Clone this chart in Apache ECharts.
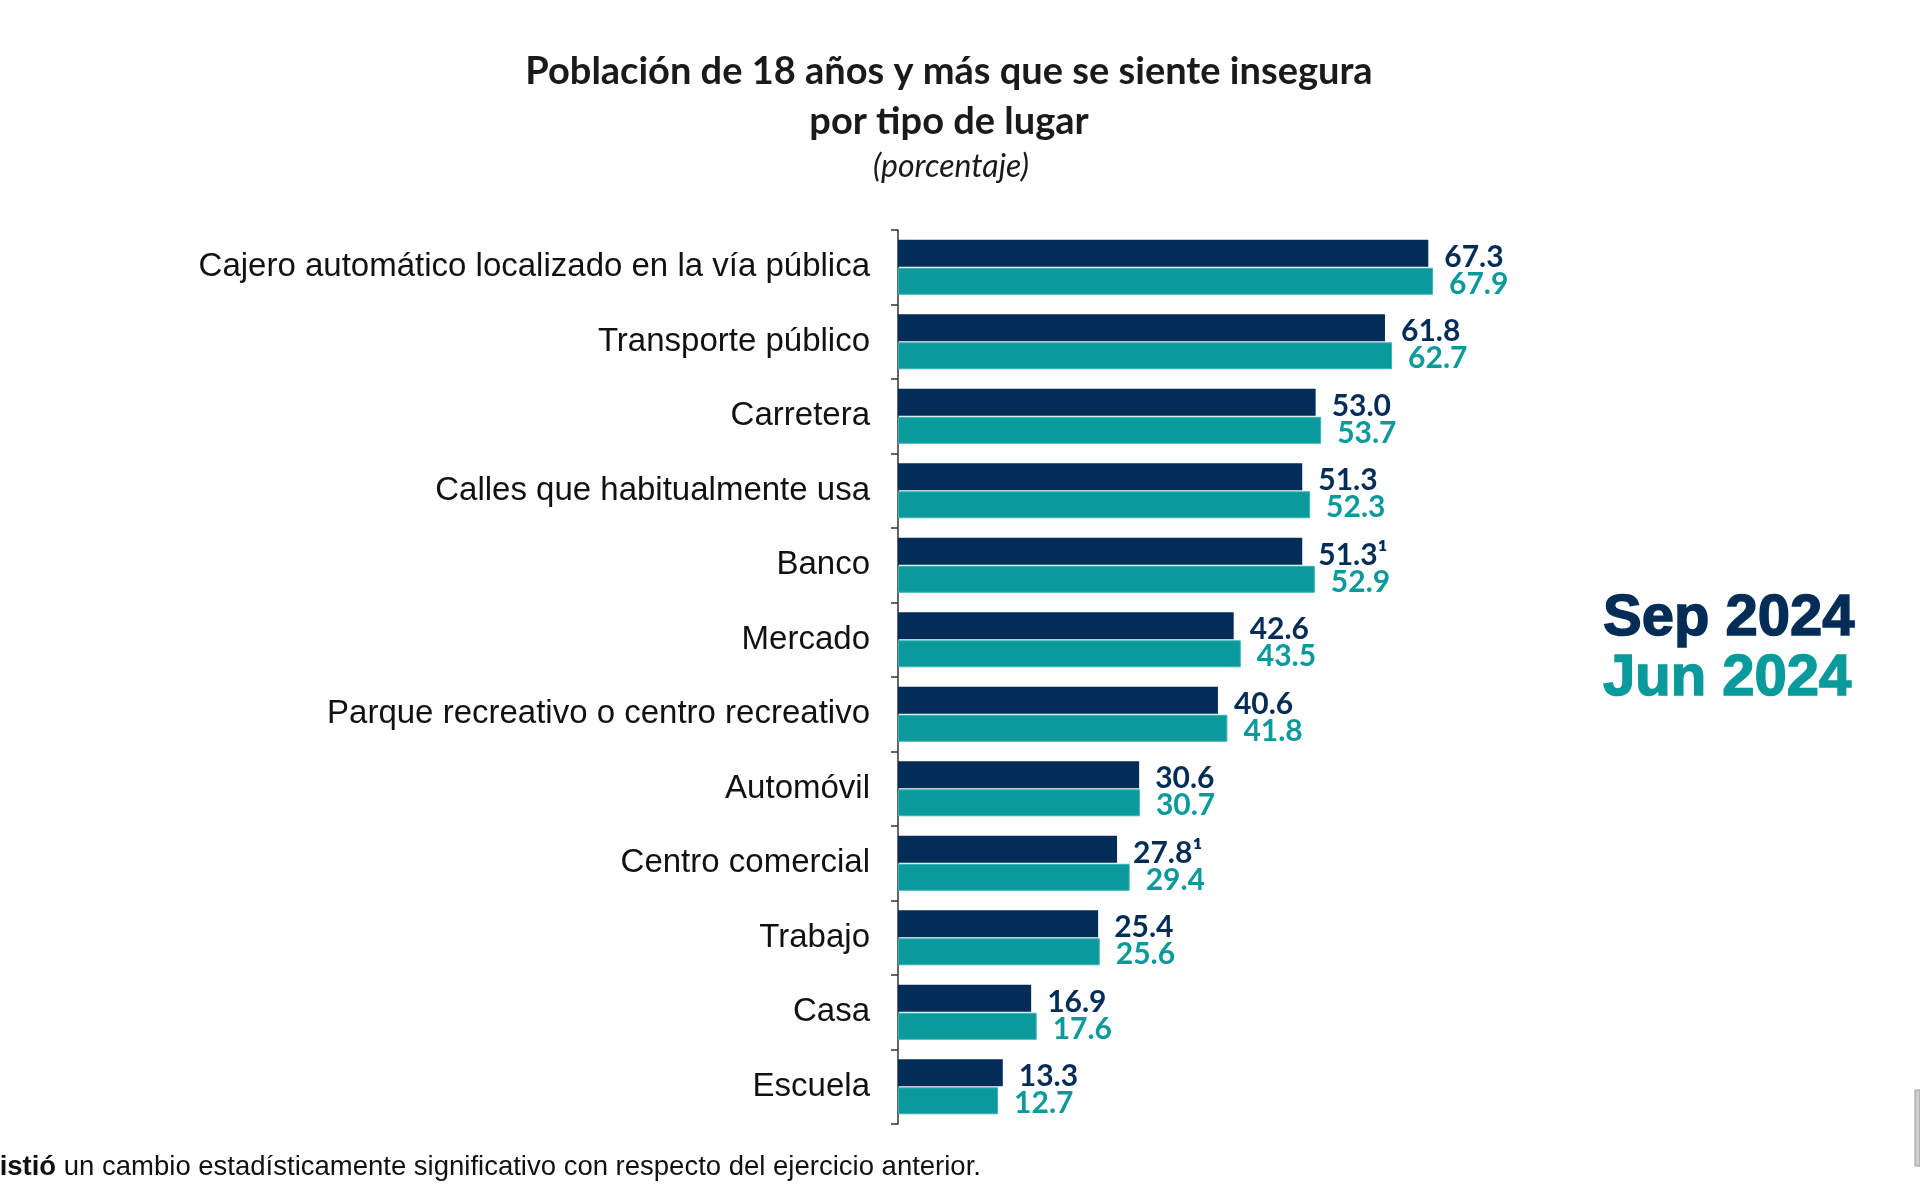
<!DOCTYPE html>
<html><head><meta charset="utf-8">
<script src="https://cdn.jsdelivr.net/npm/echarts@6/dist/echarts.min.js"></script>
<style>html,body{margin:0;padding:0;background:#fff}#c{width:1920px;height:1200px}</style>
</head><body><div id="c"></div>
<script>
const categories = ["Cajero automático localizado en la vía pública","Transporte público","Carretera","Calles que habitualmente usa","Banco","Mercado","Parque recreativo o centro recreativo","Automóvil","Centro comercial","Trabajo","Casa","Escuela"];
const sep2024 = [67.3,61.8,53.0,51.3,51.3,42.6,40.6,30.6,27.8,25.4,16.9,13.3];
const jun2024 = [67.9,62.7,53.7,52.3,52.9,43.5,41.8,30.7,29.4,25.6,17.6,12.7];
const sepMarks = ["","","","","¹","","","","¹","","",""];
const seriesNames = ["Sep 2024","Jun 2024"];
const DARK = "#032d57", TEAL = "#0b9a9c";

const chart = echarts.init(document.getElementById('c'));
chart.setOption({
  backgroundColor:'#fff',
  animation:false,
  title:[
    {text:"Población de 18 años y más que se siente insegura\npor tipo de lugar", left:944, textAlign:'center', top:42,
     textStyle:{fontFamily:'Lato', fontWeight:'bold', fontSize:38, lineHeight:50, color:'#1a1a1a'}},
    {text:"(porcentaje)", left:946, textAlign:'center', top:145,
     textStyle:{fontFamily:'Lato', fontStyle:'italic', fontWeight:'normal', fontSize:32, lineHeight:34, color:'#1a1a1a'}}
  ],
  legend:{
    orient:'vertical', left:1593, top:584, icon:'none', itemWidth:0, itemGap:0, selectedMode:false,
    data:[
      {name:seriesNames[0], textStyle:{color:DARK, textBorderColor:DARK, textBorderWidth:1.5}},
      {name:seriesNames[1], textStyle:{color:TEAL, textBorderColor:TEAL, textBorderWidth:1.5}}
    ],
    textStyle:{fontFamily:'Liberation Sans', fontWeight:'bold', fontSize:58, lineHeight:60, padding:0}
  },
  grid:{left:898, top:230, width:788, height:894, containLabel:false},
  xAxis:{type:'value', min:0, max:100, show:false},
  yAxis:{type:'category', data:categories, inverse:true,
    axisLine:{show:true, lineStyle:{color:'#333', width:1.5}},
    axisTick:{show:true, alignWithLabel:false, length:7, lineStyle:{color:'#333', width:1.5}},
    axisLabel:{margin:28, fontFamily:'Liberation Sans', fontSize:33, color:'#111', padding:[9,0,0,0]}
  },
  series:[
    {name:seriesNames[0], type:'bar', data:sep2024, barWidth:27, barGap:'4%',
     itemStyle:{color:DARK},
     label:{show:true, position:'right', distance:16, offset:[0,4], fontFamily:'Lato', fontWeight:'bold', fontSize:30, color:DARK,
       formatter:p=>p.value.toFixed(1)+sepMarks[p.dataIndex]}},
    {name:seriesNames[1], type:'bar', data:jun2024, barWidth:27,
     itemStyle:{color:TEAL, borderColor:'#3bb3b5', borderWidth:1},
     label:{show:true, position:'right', distance:16, offset:[0,3], fontFamily:'Lato', fontWeight:'bold', fontSize:30, color:TEAL,
       formatter:p=>p.value.toFixed(1)}}
  ],
  graphic:[
    {type:'text', left:-34, top:1153, style:{
      text:"{b|Existió} un cambio estadísticamente significativo con respecto del ejercicio anterior.",
      rich:{b:{fontFamily:'Liberation Sans', fontWeight:'bold', fontSize:27.5, fill:'#111'}},
      fontFamily:'Liberation Sans', fontSize:27.5, fill:'#111'}},
    {type:'rect', shape:{x:1915, y:1090, width:5, height:76}, style:{fill:'#cfcfcf', stroke:'#9a9a9a', lineWidth:1}}
  ]
});
</script></body></html>
